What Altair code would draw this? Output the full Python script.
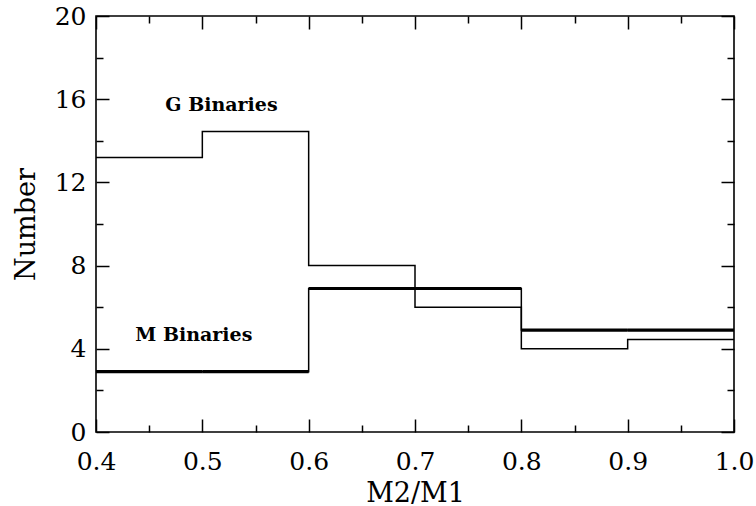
import altair as alt
import pandas as pd

# ---- data ----
bin_edges = [0.4, 0.5, 0.6, 0.7, 0.8, 0.9, 1.0]
g_counts = [13.2, 14.45, 8.0, 6.0, 4.0, 4.45]
m_counts = [2.9, 2.9, 6.9, 6.9, 4.9, 4.9]

x_major = [0.4, 0.5, 0.6, 0.7, 0.8, 0.9, 1.0]
x_minor = [0.45, 0.55, 0.65, 0.75, 0.85, 0.95]
y_major = [0, 4, 8, 12, 16, 20]
y_minor = [2, 6, 10, 14, 18]

label_text = ["G Binaries", "M Binaries"]
label_x = [0.518, 0.492]
label_y = [15.72, 4.66]

FONT = "DejaVu Serif"


def step_frame(name, counts):
    xs = bin_edges[:-1] + [bin_edges[-1]]
    ys = list(counts) + [counts[-1]]
    return pd.DataFrame({"series": name, "ratio": xs, "number": ys})


g_df = step_frame("G", g_counts)
m_df = step_frame("M", m_counts)
m_bins = pd.DataFrame({"ratio": bin_edges[:-1], "ratio2": bin_edges[1:], "number": m_counts})
lab_df = pd.DataFrame({"text": label_text, "ratio": label_x, "number": label_y})

x_scale = alt.Scale(domain=[0.4, 1.0], nice=False, zero=False)
y_scale = alt.Scale(domain=[0, 20], nice=False, zero=False)


def enc(xaxis, yaxis):
    return dict(
        x=alt.X("ratio:Q", scale=x_scale, axis=xaxis),
        y=alt.Y("number:Q", scale=y_scale, axis=yaxis),
    )


def tick_axis(orient, values, size):
    return alt.Axis(
        orient=orient, values=values, labels=False, domain=False, grid=False,
        ticks=True, tickSize=size, tickWidth=1.5, tickColor="black",
        offset=-size, title=None,
    )


x_label_axis = alt.Axis(
    orient="bottom", values=x_major, format=".1f", ticks=False, tickSize=0,
    domain=False, grid=False, labelFlush=False, labelOverlap=False,
    labelFont=FONT, labelFontSize=25, labelColor="black", labelPadding=17,
    title="M2/M1", titleFont=FONT, titleFontSize=27, titleFontWeight="normal",
    titleColor="black", titlePadding=6,
)
y_label_axis = alt.Axis(
    orient="left", values=y_major, format="d", ticks=False, tickSize=0,
    domain=False, grid=False, labelFlush=False, labelOverlap=False,
    labelFont=FONT, labelFontSize=25, labelColor="black", labelPadding=10,
    title="Number", titleFont=FONT, titleFontSize=27, titleFontWeight="normal",
    titleColor="black", titlePadding=14,
)

ghost = alt.Chart(g_df).mark_line(strokeOpacity=0)

axis_layers = [
    ghost.encode(**enc(x_label_axis, y_label_axis)),
    ghost.encode(**enc(tick_axis("bottom", x_major, 13), tick_axis("left", y_major, 13))),
    ghost.encode(**enc(tick_axis("bottom", x_minor, 7), tick_axis("left", y_minor, 7))),
    ghost.encode(**enc(tick_axis("top", x_major, 13), tick_axis("right", y_major, 13))),
    ghost.encode(**enc(tick_axis("top", x_minor, 7), tick_axis("right", y_minor, 7))),
]

g_line = alt.Chart(g_df).mark_line(
    interpolate="step-after", color="black", strokeWidth=1.5
).encode(**enc(None, None))

# M binaries: thin risers, heavy horizontal bin tops
m_line = alt.Chart(m_df).mark_line(
    interpolate="step-after", color="black", strokeWidth=1.5
).encode(**enc(None, None))

m_tops = alt.Chart(m_bins).mark_rule(color="black", strokeWidth=3.2).encode(
    x=alt.X("ratio:Q", scale=x_scale, axis=None),
    x2="ratio2:Q",
    y=alt.Y("number:Q", scale=y_scale, axis=None),
)

texts = alt.Chart(lab_df).mark_text(
    font=FONT, fontSize=19, fontWeight="bold", color="black",
    align="center", baseline="middle",
).encode(text="text:N", **enc(None, None))

chart = (
    alt.layer(*axis_layers, g_line, m_line, m_tops, texts)
    .resolve_axis(x="independent", y="independent")
    .properties(
        width=638, height=416,
        autosize=alt.AutoSizeParams(type="none"),
        padding={"left": 96, "top": 16, "right": 22, "bottom": 74},
        background="white",
    )
    .configure_view(stroke="black", strokeWidth=1.6)
)

chart.save("out.html", embed_options={"renderer": "svg", "actions": False})
